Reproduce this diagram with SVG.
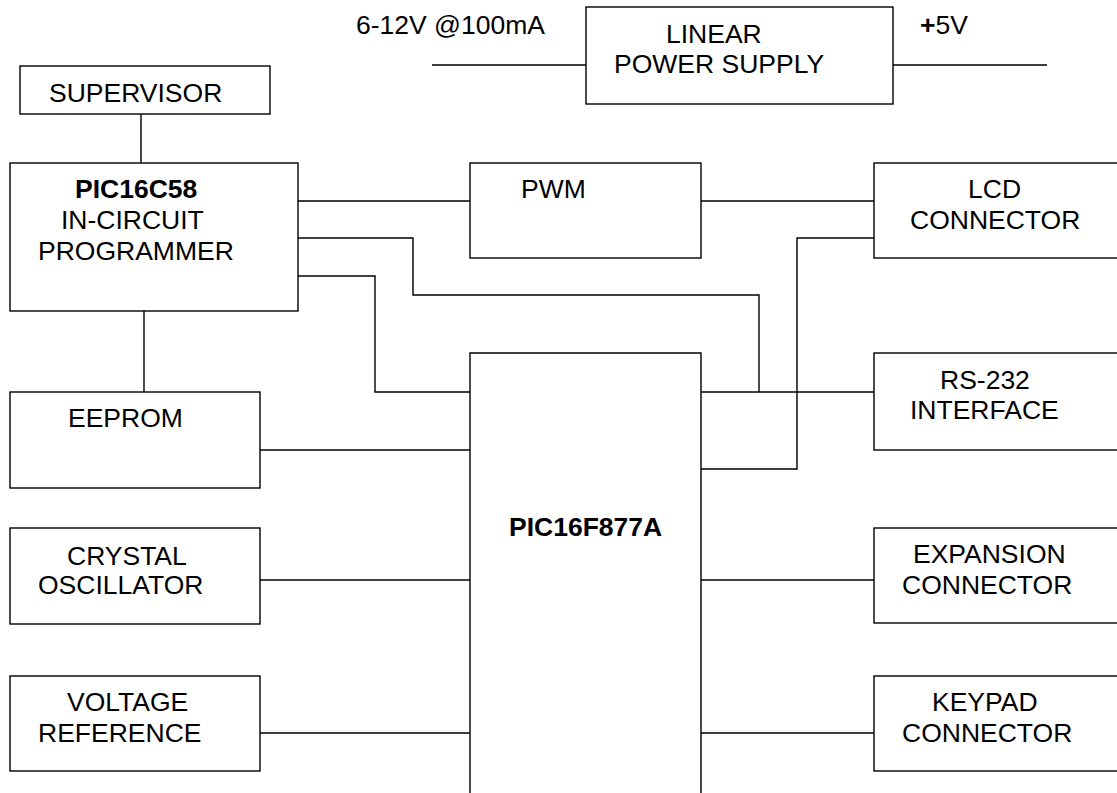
<svg xmlns="http://www.w3.org/2000/svg" width="1117" height="793" viewBox="0 0 1117 793">
<style>
.box{fill:none;stroke:#000;stroke-width:1.4}
.w{fill:none;stroke:#000;stroke-width:1.4}
text{font-family:"Liberation Sans",Arial,sans-serif;font-size:26.5px;fill:#000}
.b{font-weight:bold}
</style>
<rect width="1117" height="793" fill="#fff"/>
<g id="connectors">
<path class="w" d="M432 65H586M893 65H1047"/>
<path class="w" d="M141 114V163M144 311V392"/>
<path class="w" d="M298 201H470M701 201H874"/>
<path class="w" d="M298 238H413V295H759V392"/>
<path class="w" d="M298 276H375V392H470"/>
<path class="w" d="M701 392H874"/>
<path class="w" d="M874 238H797V469H701"/>
<path class="w" d="M260 450H470M260 580H470M260 733H470"/>
<path class="w" d="M701 580H874M701 733H874"/>
</g>
<g id="power-input-label"><text x="356" y="34">6-12V @100mA</text></g>
<g id="power-output-label"><text x="920" y="34"><tspan class="b">+</tspan>5V</text></g>
<g id="power-supply"><rect class="box" x="586" y="7" width="307" height="97"/><text x="666" y="43">LINEAR</text><text x="614" y="73">POWER SUPPLY</text></g>
<g id="supervisor"><rect class="box" x="20" y="66" width="250" height="48"/><text x="49" y="102">SUPERVISOR</text></g>
<g id="programmer"><rect class="box" x="10" y="163" width="288" height="148"/><text class="b" x="75" y="198">PIC16C58</text><text x="61" y="229">IN-CIRCUIT</text><text x="38" y="260">PROGRAMMER</text></g>
<g id="pwm"><rect class="box" x="470" y="163" width="231" height="95"/><text x="521" y="198">PWM</text></g>
<g id="lcd"><rect class="box" x="874" y="163" width="260" height="95"/><text x="968" y="198">LCD</text><text x="910" y="229">CONNECTOR</text></g>
<g id="mcu"><path class="w" d="M470 800V353H701V800"/><text class="b" x="509" y="536">PIC16F877A</text></g>
<g id="rs232"><rect class="box" x="874" y="353" width="260" height="97"/><text x="940" y="389">RS-232</text><text x="910" y="419">INTERFACE</text></g>
<g id="eeprom"><rect class="box" x="10" y="392" width="250" height="96"/><text x="68" y="427">EEPROM</text></g>
<g id="crystal"><rect class="box" x="10" y="528" width="250" height="96"/><text x="67" y="565">CRYSTAL</text><text x="38" y="594">OSCILLATOR</text></g>
<g id="vref"><rect class="box" x="10" y="676" width="250" height="95"/><text x="67" y="711">VOLTAGE</text><text x="38" y="742">REFERENCE</text></g>
<g id="expansion"><rect class="box" x="874" y="528" width="260" height="95"/><text x="913" y="563">EXPANSION</text><text x="902" y="594">CONNECTOR</text></g>
<g id="keypad"><rect class="box" x="874" y="676" width="260" height="95"/><text x="932" y="711">KEYPAD</text><text x="902" y="742">CONNECTOR</text></g>
</svg>
